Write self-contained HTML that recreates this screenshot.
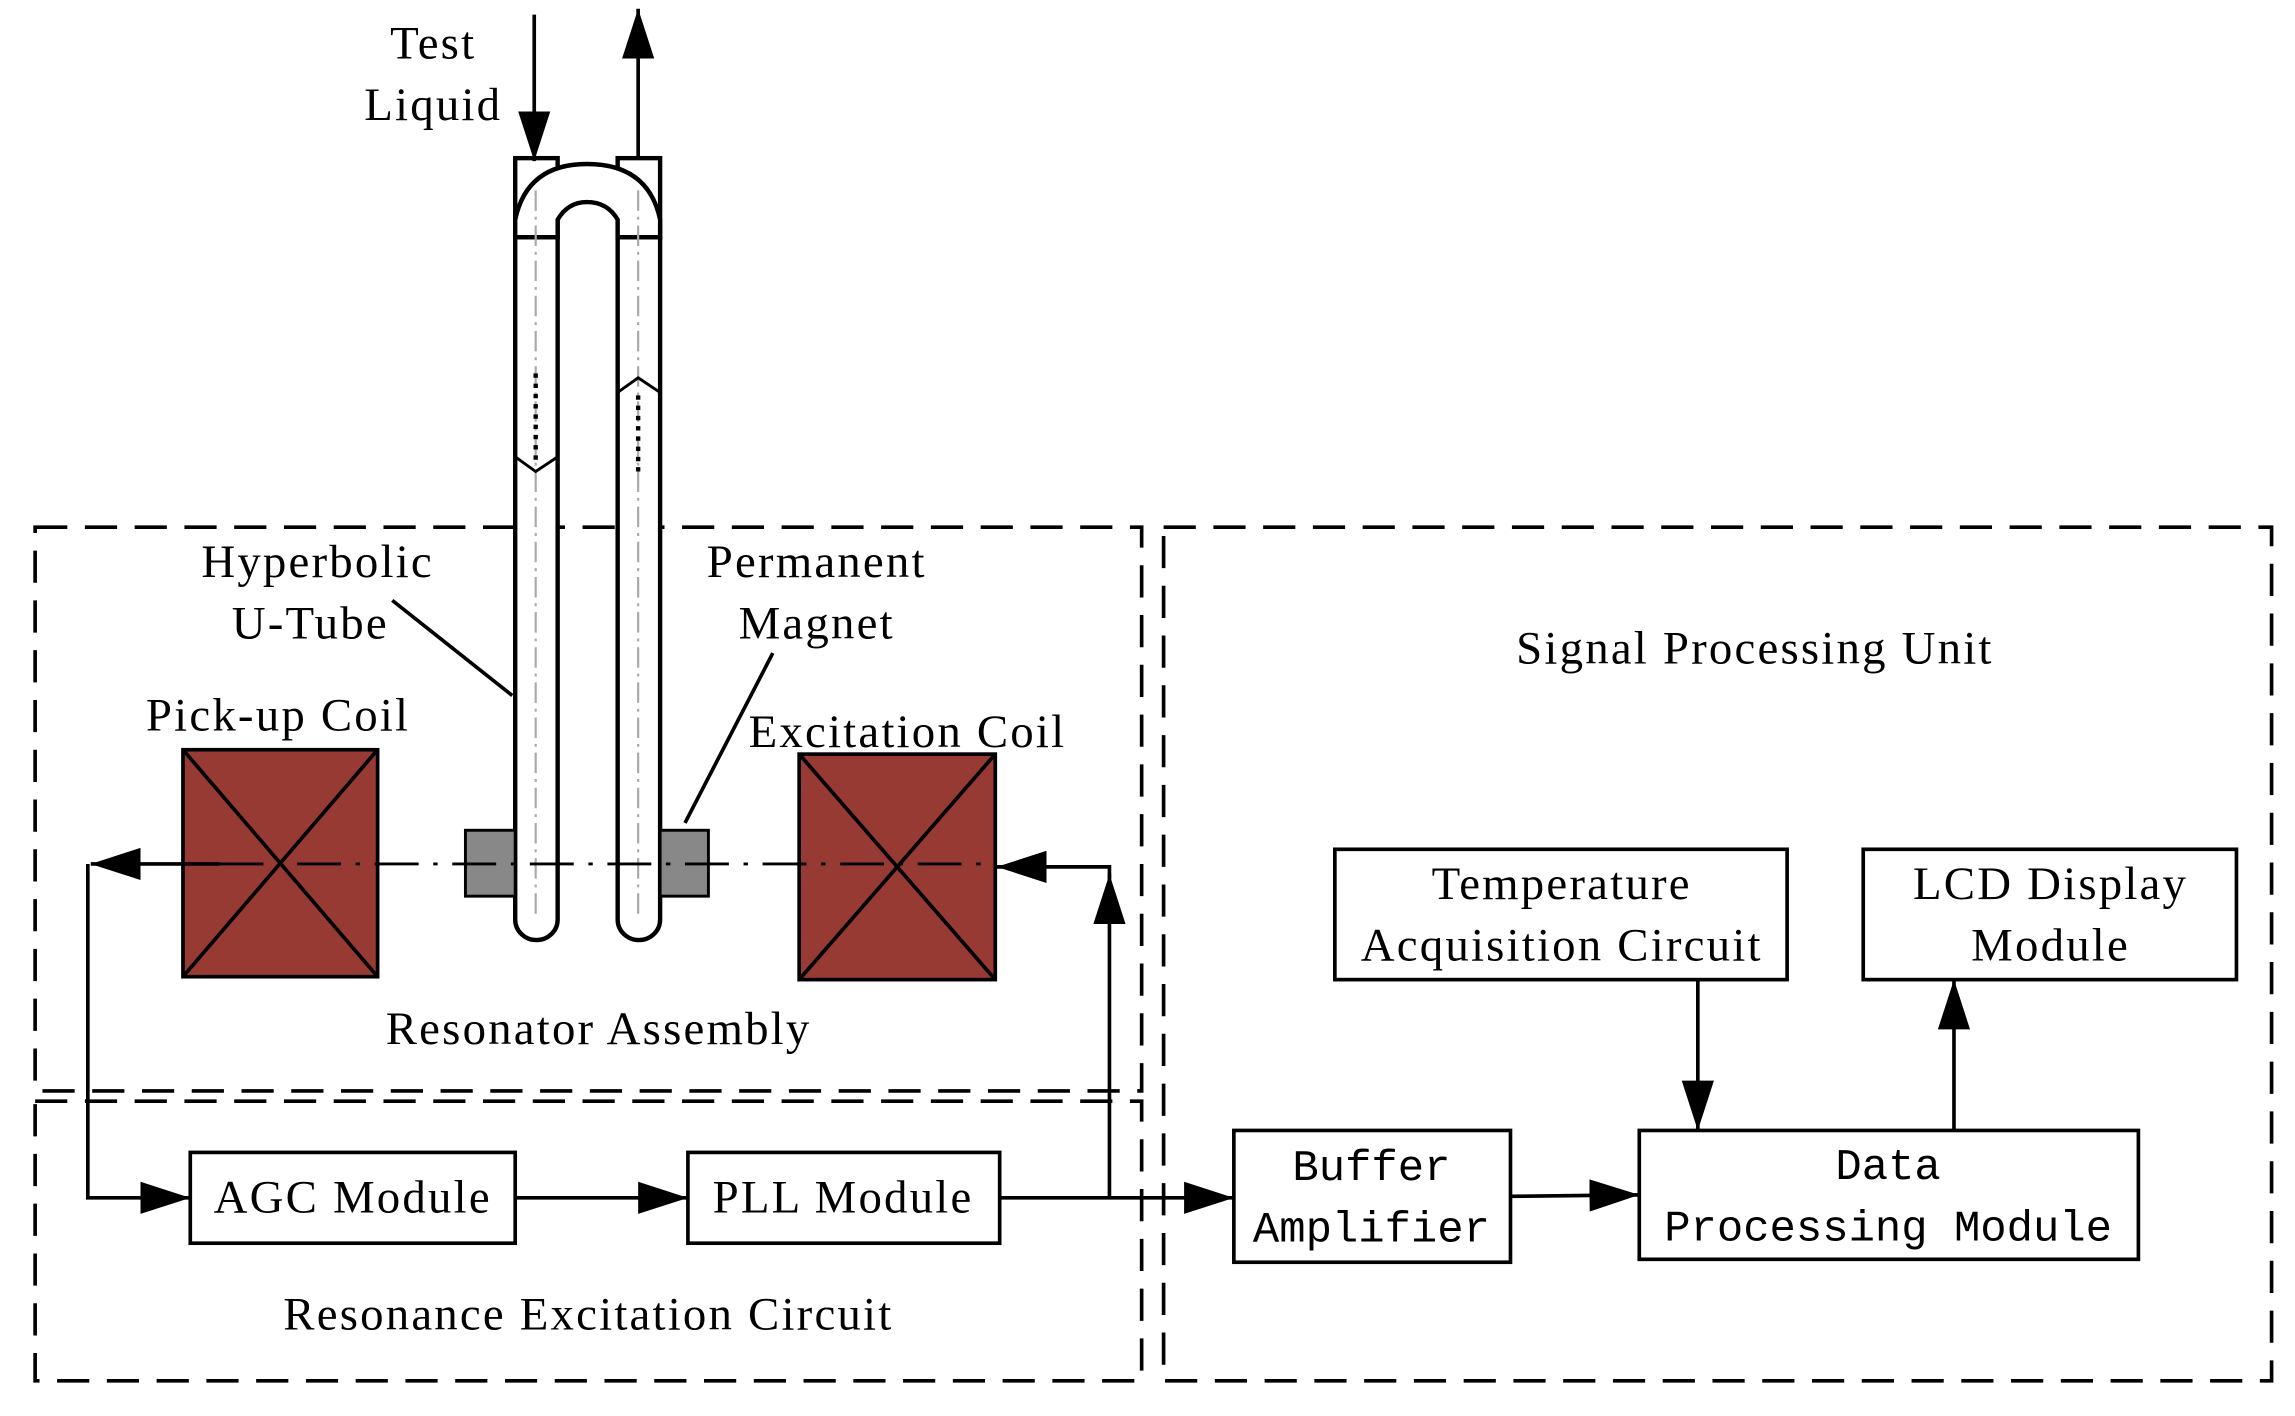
<!DOCTYPE html>
<html><head><meta charset="utf-8"><style>
html,body{margin:0;padding:0;background:#fff;width:2295px;height:1416px;overflow:hidden}
svg{display:block}
.t{font-family:"Liberation Serif",serif;font-size:32px;letter-spacing:1.5px;fill:#000}
.m{font-family:"Liberation Mono",monospace;font-size:30px;fill:#000}
</style></head><body>
<svg width="2295" height="1416" viewBox="0 0 1568 967" preserveAspectRatio="none" xmlns="http://www.w3.org/2000/svg">
<defs>
<marker id="b" viewBox="0 0 10 10" refX="10" refY="5" markerWidth="34" markerHeight="22" markerUnits="userSpaceOnUse" orient="auto" preserveAspectRatio="none">
<path d="M0,0 L10,5 L0,10 z" fill="#000"/></marker>
</defs>
<g fill="none" stroke="#000" stroke-width="2.5" stroke-dasharray="22,12">
<rect x="24" y="360" width="756" height="385"/>
<rect x="24" y="752" width="756" height="191"/>
<rect x="795" y="360" width="757" height="583"/>
</g>
<g fill="#fff" stroke="#000" stroke-width="3">
<path d="M352,162 L352,628 A14.5,14 0 0 0 381,628 L381,162"/>
<path d="M422,162 L422,628 A14.5,14 0 0 0 451,628 L451,162"/>
<rect x="352" y="108" width="29" height="54"/>
<rect x="422" y="108" width="29" height="54"/>
<path d="M352,162 L352,150 Q360,112 401,112 Q443,112 451,150 L451,162 L422,162 L422,150 Q415,138 401,138 Q388,138 381,150 L381,162 Z"/>
</g>
<g stroke="#aaa" stroke-width="1.5" stroke-dasharray="14,4,2,4" fill="none">
<line x1="366" y1="130" x2="366" y2="625"/><line x1="436" y1="130" x2="436" y2="625"/>
</g>
<g stroke="#000" stroke-width="2" fill="none">
<path d="M352,312 L366,322 L381,312"/><path d="M422,268 L436,258 L451,268"/>
</g>
<g stroke="#000" stroke-width="3" stroke-dasharray="3,4"><line x1="366" y1="255" x2="366" y2="315"/><line x1="436" y1="270" x2="436" y2="325"/></g>
<line x1="365" y1="10" x2="365" y2="110" stroke="#000" stroke-width="2.5" marker-end="url(#b)"/>
<line x1="436" y1="108" x2="436" y2="6" stroke="#000" stroke-width="2.5" marker-end="url(#b)"/>
<rect x="318" y="567" width="34" height="45" fill="#888" stroke="#000" stroke-width="2"/>
<rect x="451" y="567" width="33" height="45" fill="#888" stroke="#000" stroke-width="2"/>
<g stroke="#000" stroke-width="2.5">
<rect x="125" y="512" width="133" height="155" fill="#973a33"/>
<line x1="125" y1="512" x2="258" y2="667"/><line x1="258" y1="512" x2="125" y2="667"/>
<rect x="546" y="515" width="134" height="154" fill="#973a33"/>
<line x1="546" y1="515" x2="680" y2="669"/><line x1="680" y1="515" x2="546" y2="669"/>
</g>
<line x1="150" y1="590" x2="680" y2="590" stroke="#000" stroke-width="2" stroke-dasharray="30,10,3,10"/>
<line x1="268" y1="410" x2="350" y2="475" stroke="#000" stroke-width="2.5"/>
<line x1="528" y1="446" x2="468" y2="562" stroke="#000" stroke-width="2.5"/>
<g stroke="#000" stroke-width="2.5" fill="none">
<line x1="150" y1="590" x2="62" y2="590" marker-end="url(#b)"/>
<polyline points="60,590 60,818 130,818" marker-end="url(#b)"/>
<line x1="352" y1="818" x2="470" y2="818" marker-end="url(#b)"/>
<line x1="683" y1="818" x2="843" y2="818" marker-end="url(#b)"/>
<line x1="758" y1="818" x2="758" y2="597" marker-end="url(#b)"/>
<polyline points="758,600 758,592 681,592" marker-end="url(#b)"/>
<line x1="1032" y1="817" x2="1120" y2="816" marker-end="url(#b)"/>
<line x1="1160" y1="669" x2="1160" y2="772" marker-end="url(#b)"/>
<line x1="1335" y1="772" x2="1335" y2="669" marker-end="url(#b)"/>
</g>
<g fill="#fff" stroke="#000" stroke-width="2.5">
<rect x="130" y="787" width="222" height="62"/>
<rect x="470" y="787" width="213" height="62"/>
<rect x="843" y="772" width="189" height="90"/>
<rect x="1120" y="772" width="341" height="88"/>
<rect x="912" y="580" width="309" height="89"/>
<rect x="1273" y="580" width="255" height="89"/>
</g>
<g class="t" text-anchor="middle">
<text x="296" y="40">Test</text>
<text x="296" y="82">Liquid</text>
<text x="217" y="394">Hyperbolic</text>
<text x="212" y="436">U-Tube</text>
<text x="558" y="394">Permanent</text>
<text x="558" y="436">Magnet</text>
<text x="190" y="499">Pick-up Coil</text>
<text x="620" y="510">Excitation Coil</text>
<text x="409" y="713">Resonator Assembly</text>
<text x="241" y="828">AGC Module</text>
<text x="576" y="828">PLL Module</text>
<text x="402" y="908">Resonance Excitation Circuit</text>
<text x="1199" y="453">Signal Processing Unit</text>
<text x="1067" y="614">Temperature</text>
<text x="1067" y="656">Acquisition Circuit</text>
<text x="1401" y="614">LCD Display</text>
<text x="1401" y="656">Module</text>
</g>
<g class="m" text-anchor="middle">
<text x="937" y="806">Buffer</text>
<text x="937" y="848">Amplifier</text>
<text x="1290" y="805">Data</text>
<text x="1290" y="847">Processing Module</text>
</g>
</svg>
</body></html>
